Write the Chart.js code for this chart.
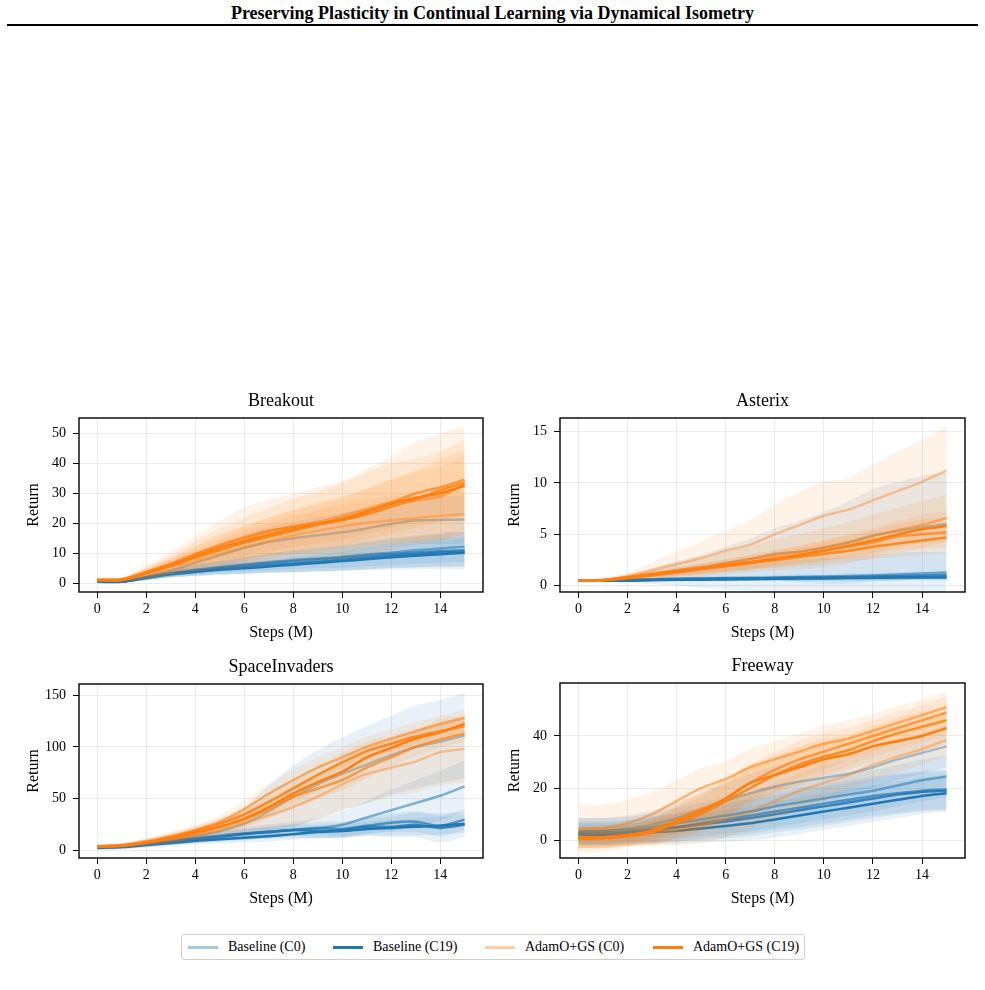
<!DOCTYPE html>
<html>
<head>
<meta charset="utf-8">
<script src="https://cdn.jsdelivr.net/npm/chart.js@4.4.0/dist/chart.umd.min.js"></script>
<style>
  body { margin: 0; background: #fff; width: 985px; height: 990px; position: relative; overflow: hidden;
         font-family: "Liberation Serif", "Times New Roman", serif; color: #000; }
  #header { position: absolute; left: 0; top: 3px; width: 985px; text-align: center;
            font-weight: bold; font-size: 18px; line-height: 20px; }
  #rule { position: absolute; left: 7px; top: 24px; width: 971px; height: 2px; background: #000; }
  canvas { position: absolute; }
  #legend { position: absolute; left: 181px; top: 934px; width: 622px; height: 24px;
            border: 1px solid #d0d0d0; border-radius: 3px; font-size: 14px; }
  #legend .sw { position: absolute; top: 11px; width: 30px; height: 3px; }
  #legend .lbl { position: absolute; top: 3px; line-height: 18px; white-space: nowrap; }
</style>
</head>
<body>
<div id="header">Preserving Plasticity in Continual Learning via Dynamical Isometry</div>
<div id="rule"></div>
<div id="legend"></div>

<script>
// ============================================
// DATA (x = steps in millions)
// ============================================
const steps = [0, 1, 2, 3, 4, 5, 6, 7, 8, 9, 10, 11, 12, 13, 14, 15];
const xTicks = [0, 2, 4, 6, 8, 10, 12, 14];
const seriesNames = ['Baseline (C0)', 'Baseline (C19)', 'AdamO+GS (C0)', 'AdamO+GS (C19)'];
const panelTitles = ['Breakout', 'Asterix', 'SpaceInvaders', 'Freeway'];

// each panel: rows go from the first context (light) to the last context (dark)
const breakoutYTicks = [0, 10, 20, 30, 40, 50];
const breakoutBase = [
    [0.5, 0.6, 2.2, 4.3, 6.8, 9.3, 11.8, 13.8, 15.0, 16.0, 17.0, 18.3, 19.8, 21.0, 21.1, 21.3],
    [0.5, 0.6, 2.0, 3.4, 4.5, 5.4, 6.3, 7.0, 7.8, 8.3, 8.8, 9.6, 10.2, 11.0, 11.6, 12.2],
    [0.5, 0.6, 2.0, 3.3, 4.3, 5.2, 6.0, 6.8, 7.4, 8.0, 8.5, 9.2, 9.8, 10.3, 10.8, 11.0],
    [0.5, 0.6, 1.9, 3.2, 4.1, 4.9, 5.5, 6.1, 6.6, 7.2, 7.8, 8.5, 9.2, 9.8, 10.3, 10.6],
    [0.5, 0.5, 1.8, 3.0, 3.8, 4.5, 5.0, 5.6, 6.2, 6.8, 7.4, 8.0, 8.7, 9.2, 9.7, 10.2]
];
const breakoutBaseSd = [
    [0.4, 0.5, 1.2, 2.2, 3.0, 3.8, 4.5, 5.0, 5.5, 6.0, 6.5, 7.0, 7.5, 8.0, 8.0, 8.0],
    [0.3, 0.4, 0.8, 1.2, 1.6, 2.0, 2.4, 2.7, 3.0, 3.3, 3.6, 3.9, 4.2, 4.5, 4.8, 5.0],
    [0.3, 0.4, 0.9, 1.4, 1.9, 2.4, 2.8, 3.2, 3.6, 4.0, 4.4, 4.8, 5.2, 5.6, 6.0, 6.4],
    [0.3, 0.4, 0.8, 1.2, 1.6, 2.0, 2.3, 2.6, 2.9, 3.2, 3.5, 3.8, 4.1, 4.4, 4.7, 5.0],
    [0.3, 0.3, 0.7, 1.0, 1.3, 1.6, 1.9, 2.2, 2.5, 2.8, 3.1, 3.4, 3.7, 4.0, 4.3, 4.6]
];
const breakoutAdam = [
    [1.0, 1.1, 3.0, 5.3, 7.5, 9.8, 12.0, 14.0, 16.0, 17.5, 19.0, 20.2, 21.0, 21.8, 22.5, 23.0],
    [1.0, 1.2, 3.6, 6.3, 9.5, 12.3, 14.8, 17.2, 19.0, 20.5, 22.5, 24.8, 27.0, 27.6, 29.0, 33.0],
    [1.1, 1.3, 3.8, 6.6, 9.8, 12.8, 15.3, 17.5, 18.8, 20.0, 21.2, 23.5, 26.8, 30.0, 32.0, 34.5],
    [1.0, 1.1, 3.3, 5.8, 8.6, 11.0, 13.5, 15.5, 17.5, 19.5, 21.0, 23.0, 25.5, 28.0, 31.0, 33.5],
    [1.2, 1.3, 3.5, 6.0, 9.0, 11.8, 14.0, 16.2, 18.2, 19.8, 21.5, 24.0, 26.5, 28.5, 30.0, 32.5]
];
const breakoutAdamSd = [
    [0.5, 0.6, 1.5, 2.5, 3.5, 4.5, 5.5, 6.0, 6.5, 7.0, 7.5, 7.8, 8.0, 8.0, 8.0, 8.0],
    [0.5, 0.6, 1.8, 3.0, 4.5, 6.0, 7.0, 8.0, 9.0, 10.0, 11.0, 12.0, 13.0, 14.0, 15.0, 15.0],
    [0.5, 0.7, 2.2, 4.0, 6.0, 8.0, 10.0, 10.5, 11.0, 12.0, 13.0, 14.5, 15.5, 17.0, 18.0, 18.0],
    [0.5, 0.6, 1.5, 2.5, 3.5, 4.5, 5.5, 6.5, 7.0, 7.5, 8.0, 8.5, 9.0, 9.5, 10.5, 11.0],
    [0.5, 0.6, 1.5, 2.5, 3.5, 4.5, 5.0, 5.5, 6.0, 6.5, 7.0, 7.5, 8.0, 8.5, 9.0, 10.0]
];

const asterixYTicks = [0, 5, 10, 15];
const asterixBase = [
    [0.5, 0.55, 0.8, 1.1, 1.5, 1.8, 2.2, 2.6, 3.1, 3.3, 3.7, 4.2, 4.9, 5.3, 5.7, 6.0],
    [0.5, 0.5, 0.6, 0.65, 0.7, 0.72, 0.75, 0.78, 0.8, 0.85, 0.9, 0.95, 1.0, 1.1, 1.2, 1.3],
    [0.5, 0.5, 0.55, 0.6, 0.65, 0.7, 0.7, 0.72, 0.75, 0.8, 0.82, 0.85, 0.9, 0.95, 1.0, 1.05],
    [0.5, 0.5, 0.55, 0.6, 0.6, 0.65, 0.68, 0.7, 0.72, 0.75, 0.78, 0.8, 0.82, 0.85, 0.88, 0.9],
    [0.5, 0.5, 0.5, 0.55, 0.58, 0.6, 0.62, 0.65, 0.68, 0.7, 0.72, 0.75, 0.78, 0.8, 0.8, 0.8]
];
const asterixBaseSd = [
    [0.1, 0.15, 0.3, 0.6, 0.9, 1.2, 1.6, 2.0, 2.5, 3.0, 3.5, 4.0, 4.5, 4.8, 5.0, 5.0],
    [0.1, 0.1, 0.3, 0.5, 0.7, 0.9, 1.1, 1.3, 1.5, 1.7, 1.8, 1.9, 2.0, 2.1, 2.1, 2.0],
    [0.05, 0.05, 0.1, 0.15, 0.2, 0.2, 0.25, 0.25, 0.3, 0.3, 0.3, 0.35, 0.35, 0.4, 0.4, 0.4],
    [0.05, 0.05, 0.1, 0.1, 0.15, 0.15, 0.2, 0.2, 0.2, 0.25, 0.25, 0.25, 0.3, 0.3, 0.3, 0.3],
    [0.05, 0.05, 0.1, 0.1, 0.1, 0.15, 0.15, 0.15, 0.2, 0.2, 0.2, 0.2, 0.25, 0.25, 0.25, 0.25]
];
const asterixAdam = [
    [0.5, 0.6, 0.9, 1.5, 2.1, 2.7, 3.4, 4.0, 5.0, 5.9, 6.8, 7.4, 8.3, 9.2, 10.1, 11.2],
    [0.5, 0.55, 0.85, 1.2, 1.5, 1.8, 2.2, 2.6, 3.0, 3.3, 3.7, 4.2, 4.8, 5.4, 5.9, 6.6],
    [0.5, 0.55, 0.8, 1.1, 1.4, 1.7, 2.0, 2.3, 2.7, 3.0, 3.4, 3.8, 4.2, 4.8, 5.0, 5.2],
    [0.5, 0.55, 0.75, 1.0, 1.3, 1.6, 1.9, 2.2, 2.5, 2.8, 3.1, 3.4, 3.8, 4.1, 4.4, 4.7],
    [0.5, 0.55, 0.8, 1.1, 1.4, 1.7, 2.0, 2.3, 2.6, 3.0, 3.4, 3.9, 4.4, 5.0, 5.5, 5.8]
];
const asterixAdamSd = [
    [0.1, 0.15, 0.4, 0.8, 1.2, 1.6, 2.0, 2.4, 2.9, 3.2, 3.3, 3.0, 3.5, 3.8, 4.1, 4.3],
    [0.1, 0.1, 0.3, 0.5, 0.7, 0.9, 1.1, 1.3, 1.5, 1.7, 1.9, 2.0, 2.1, 2.2, 2.3, 2.3],
    [0.1, 0.1, 0.2, 0.3, 0.4, 0.5, 0.6, 0.7, 0.8, 0.9, 1.0, 1.1, 1.2, 1.3, 1.4, 1.5],
    [0.1, 0.1, 0.2, 0.3, 0.4, 0.5, 0.6, 0.7, 0.8, 0.9, 1.0, 1.1, 1.2, 1.3, 1.4, 1.5],
    [0.1, 0.1, 0.2, 0.3, 0.4, 0.5, 0.6, 0.7, 0.8, 0.9, 1.0, 1.1, 1.2, 1.3, 1.4, 1.5]
];

const invadersYTicks = [0, 50, 100, 150];
const invadersBase = [
    [4, 5, 7.5, 10.5, 14, 19, 26, 38, 52, 64, 74, 83, 92, 100, 105, 111],
    [3, 4, 6.5, 9, 11.5, 14, 16.5, 18.5, 20, 21.5, 25, 32, 39, 46, 53, 62],
    [3, 4, 6.5, 9.5, 12, 14.5, 16.5, 18, 20, 22, 21, 24, 27, 28, 24, 30],
    [3, 3.8, 6, 8.5, 11, 13.5, 16, 18, 20, 19, 20, 23, 23, 25, 22, 25],
    [3, 3.5, 5.5, 7.5, 9.5, 11, 12.5, 14, 16, 18, 19, 21, 22, 23, 24, 26]
];
const invadersBaseSd = [
    [2, 2, 3, 4, 6, 10, 16, 25, 30, 33, 35, 37, 38, 40, 40, 41],
    [2, 2, 3, 3.5, 4, 5, 6, 7, 8, 10, 13, 16, 20, 22, 24, 25],
    [2, 2, 2.5, 3, 3.5, 4, 4.5, 5, 5.5, 6, 7, 8, 9, 10, 10, 10],
    [2, 2, 2.5, 3, 3.5, 4, 4.5, 5, 5.5, 6, 7, 8, 10, 12, 14, 12],
    [2, 2, 2.5, 3, 3.5, 4, 4.5, 5, 5.5, 6, 6.5, 7, 7.5, 8, 8.5, 9]
];
const invadersAdam = [
    [4, 5, 8, 11, 15, 20, 27, 34, 42, 52, 64, 74, 80, 86, 95, 98],
    [4, 5, 9, 14, 20, 28, 40, 55, 68, 80, 90, 100, 108, 115, 122, 128],
    [4, 5, 8, 12, 17, 23, 30, 40, 52, 60, 68, 80, 90, 100, 107, 113],
    [4, 5, 8, 13, 19, 26, 35, 47, 60, 73, 85, 96, 103, 110, 115, 120],
    [4, 5, 8, 12, 17, 23, 31, 42, 55, 66, 76, 90, 99, 108, 114, 122.5]
];
const invadersAdamSd = [
    [2, 2, 3, 4, 5, 7, 10, 14, 18, 22, 25, 28, 28, 30, 32, 32],
    [2, 2, 3, 4, 5, 6, 8, 9, 10, 10, 10, 10, 9, 9, 8, 8],
    [2, 2, 3, 4, 5, 6, 8, 9, 10, 10, 10, 10, 9, 9, 8, 8],
    [2, 2, 3, 4, 5, 6, 7, 8, 9, 9, 9, 9, 8, 8, 8, 8],
    [2, 2, 3, 4, 5, 6, 7, 8, 9, 9, 9, 9, 8, 8, 8, 8]
];

const freewayYTicks = [0, 20, 40];
const freewayBase = [
    [3.5, 3.6, 4.5, 6, 8.5, 11.5, 15, 18, 20.5, 22.5, 24, 25.5, 28, 31, 33.5, 36],
    [3.5, 3.6, 4, 5, 6.5, 8, 9.5, 11, 13, 14.5, 16, 17.5, 19, 21, 23, 24.5],
    [2.2, 2.3, 3, 4, 5, 6.5, 8, 9.5, 11, 12.5, 14, 15.5, 17, 18, 19, 19.5],
    [2.8, 2.9, 3.2, 4, 5, 6, 7.2, 8.5, 10, 11.5, 13, 14.5, 16, 17.5, 18.5, 19],
    [2, 2, 2.3, 3, 3.6, 4.5, 5.5, 6.5, 8, 9.5, 11, 12.5, 14, 15.5, 17, 18]
];
const freewayBaseSd = [
    [5, 5, 5, 5.5, 6, 6.5, 7, 7.5, 8, 8, 8, 8, 8, 8, 8, 8],
    [5, 5, 5, 5.5, 6, 6.5, 7, 7.5, 8, 8, 8, 8, 8, 8, 8, 8],
    [4.5, 4.5, 4.5, 5, 5.5, 6, 6.5, 7, 7, 7.5, 7.5, 7.5, 7.5, 7.5, 7.5, 7.5],
    [4.5, 4.5, 4.5, 5, 5.5, 6, 6.5, 7, 7, 7.5, 7.5, 7.5, 7.5, 7.5, 7.5, 7.5],
    [4, 4, 4, 4.5, 5, 5.5, 6, 6.5, 7, 7, 7, 7, 7, 7, 7, 7]
];
const freewayAdam = [
    [1, 1.1, 2, 3, 4, 6, 8, 11, 15, 19, 22, 25, 29, 32, 35, 38.5],
    [4.5, 4.6, 6.5, 10, 15, 20, 23.5, 28, 31, 34, 37, 39, 42, 45, 48, 51],
    [1, 1.2, 2, 4, 8, 12, 16, 22, 27, 31, 34, 37, 40, 43, 46, 49],
    [1, 1.1, 1.8, 3.5, 6.5, 10, 15, 20, 25, 29, 32, 34.5, 38, 41, 43.5, 46],
    [0.5, 0.8, 1.5, 3, 7, 11, 16, 22, 25, 28, 31, 33, 36, 38, 40, 43]
];
const freewayAdamSd = [
    [4, 4, 4, 5, 6, 7, 7, 7, 7, 7, 7, 6, 6, 6, 6, 6],
    [9, 9, 9, 8.5, 8, 7.5, 7, 7, 7, 7, 7, 7, 6.5, 6.5, 6, 6],
    [4, 4, 4, 5, 6, 7, 7, 7, 7, 7, 7, 6, 6, 6, 6, 6],
    [4, 4, 4, 5, 6, 7, 7, 7, 7, 7, 7, 6, 6, 6, 6, 6],
    [4, 4, 4, 5, 6, 7, 7, 7, 7, 7, 7, 6, 6, 6, 6, 6]
];

// ============================================
// STYLE / LAYOUT
// ============================================
const SERIF = '"Liberation Serif", "Times New Roman", serif';
const BLUE = [31, 119, 180];
const ORANGE = [255, 127, 14];
const shadeAlpha = [0.4, 0.55, 0.7, 0.85, 1.0];
const PAD_L = 75, PAD_T = 40, PAD_R = 12, PAD_B = 62;

const panels = [
    { area: [79, 418, 483, 592], yMin: -2.9, yMax: 55.1, yTicks: breakoutYTicks,
      base: breakoutBase, baseSd: breakoutBaseSd, adam: breakoutAdam, adamSd: breakoutAdamSd },
    { area: [560, 418, 965, 592], yMin: -0.6, yMax: 16.3, yTicks: asterixYTicks,
      base: asterixBase, baseSd: asterixBaseSd, adam: asterixAdam, adamSd: asterixAdamSd },
    { area: [79, 684, 483, 858], yMin: -7, yMax: 160.6, yTicks: invadersYTicks,
      base: invadersBase, baseSd: invadersBaseSd, adam: invadersAdam, adamSd: invadersAdamSd },
    { area: [560, 683, 965, 858], yMin: -6.8, yMax: 60.3, yTicks: freewayYTicks,
      base: freewayBase, baseSd: freewayBaseSd, adam: freewayAdam, adamSd: freewayAdamSd }
];

function rgba(c, a) { return `rgba(${c[0]}, ${c[1]}, ${c[2]}, ${a})`; }
function toPoints(ys) { return steps.map((x, i) => ({ x: x, y: ys[i] })); }

// box around the plot area (all four spines)
const framePlugin = {
    id: 'frame',
    afterDatasetsDraw(chart) {
        const { ctx, chartArea: a } = chart;
        ctx.save();
        ctx.strokeStyle = '#000';
        ctx.lineWidth = 1.4;
        ctx.strokeRect(a.left, a.top, a.right - a.left, a.bottom - a.top);
        ctx.restore();
    }
};

// title centred over the plot area, like matplotlib
const panelTitlePlugin = {
    id: 'panelTitle',
    afterDraw(chart, args, opts) {
        const { ctx, chartArea: a } = chart;
        ctx.save();
        ctx.fillStyle = '#000';
        ctx.font = '18px ' + SERIF;
        ctx.textAlign = 'center';
        ctx.textBaseline = 'middle';
        ctx.fillText(opts.text, (a.left + a.right) / 2, a.top - 17);
        ctx.restore();
    }
};

function buildDatasets(p) {
    const ds = [];
    [[p.base, p.baseSd, BLUE], [p.adam, p.adamSd, ORANGE]].forEach(([means, sds, col]) => {
        means.forEach((m, i) => {
            const sd = sds[i];
            ds.push({ data: toPoints(m.map((v, j) => v - sd[j])), borderWidth: 0, fill: false });
            ds.push({ data: toPoints(m.map((v, j) => v + sd[j])), borderWidth: 0, fill: '-1',
                      backgroundColor: rgba(col, 0.1) });
            ds.push({ data: toPoints(m), borderColor: rgba(col, shadeAlpha[i]), borderWidth: 2.5, fill: false });
        });
    });
    // first pushed is drawn first (bottom), as in matplotlib
    const n = ds.length;
    ds.forEach((d, k) => {
        d.order = n - k;
        d.pointRadius = 0;
        d.tension = 0.25;
    });
    return ds;
}

function makePanel(p, idx) {
    const [l, t, r, b] = p.area;
    const canvas = document.createElement('canvas');
    canvas.width = (r - l) + PAD_L + PAD_R;
    canvas.height = (b - t) + PAD_T + PAD_B;
    canvas.style.left = (l - PAD_L) + 'px';
    canvas.style.top = (t - PAD_T) + 'px';
    document.body.appendChild(canvas);

    const gridOpts = { color: '#e6e6e6', lineWidth: 0.8, tickColor: '#000', tickLength: 6, tickWidth: 1 };

    new Chart(canvas.getContext('2d'), {
        type: 'line',
        data: { datasets: buildDatasets(p) },
        options: {
            responsive: false,
            animation: false,
            events: [],
            layout: { padding: { left: 0, top: PAD_T, right: PAD_R, bottom: 0 } },
            plugins: {
                legend: { display: false },
                tooltip: { enabled: false },
                panelTitle: { text: panelTitles[idx] }
            },
            scales: {
                x: {
                    type: 'linear', min: -0.75, max: 15.75,
                    afterBuildTicks: s => { s.ticks = xTicks.map(v => ({ value: v })); },
                    afterFit: s => { s.height = PAD_B; },
                    grid: gridOpts,
                    border: { display: false },
                    ticks: { color: '#000', font: { family: SERIF, size: 14 }, padding: 3,
                             maxRotation: 0, autoSkip: false, callback: v => String(v) },
                    title: { display: true, text: 'Steps (M)', color: '#000',
                             font: { family: SERIF, size: 16 }, padding: { top: 0, bottom: 12 } }
                },
                y: {
                    type: 'linear', min: p.yMin, max: p.yMax,
                    afterBuildTicks: s => { s.ticks = p.yTicks.map(v => ({ value: v })); },
                    afterFit: s => { s.width = PAD_L; },
                    grid: gridOpts,
                    border: { display: false },
                    ticks: { color: '#000', font: { family: SERIF, size: 14 }, padding: 7,
                             autoSkip: false, callback: v => String(v) },
                    title: { display: true, text: 'Return', color: '#000',
                             font: { family: SERIF, size: 16 }, padding: { top: 20, bottom: 0 } }
                }
            }
        },
        plugins: [framePlugin, panelTitlePlugin]
    });
}

panels.forEach(makePanel);

// ============================================
// LEGEND
// ============================================
const legendColors = [rgba(BLUE, 0.4), rgba(BLUE, 1), rgba(ORANGE, 0.4), rgba(ORANGE, 1)];
const legendSwatchX = [6, 151, 303, 471];
const legend = document.getElementById('legend');
seriesNames.forEach((name, i) => {
    const sw = document.createElement('div');
    sw.className = 'sw';
    sw.style.left = legendSwatchX[i] + 'px';
    sw.style.background = legendColors[i];
    legend.appendChild(sw);
    const lbl = document.createElement('div');
    lbl.className = 'lbl';
    lbl.style.left = (legendSwatchX[i] + 40) + 'px';
    lbl.textContent = name;
    legend.appendChild(lbl);
});
</script>
</body>
</html>
